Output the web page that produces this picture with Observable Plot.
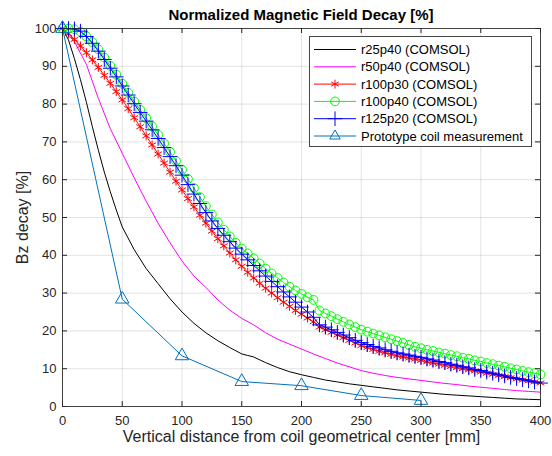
<!DOCTYPE html>
<html>
<head>
<meta charset="utf-8">
<script src="https://cdn.jsdelivr.net/npm/d3@7"></script>
<script src="https://cdn.jsdelivr.net/npm/@observablehq/plot@0.6"></script>
<style>
  html, body { margin: 0; padding: 0; background: #fff; }
  #title { height: 24px; box-sizing: border-box; padding-left: 62px; padding-right: 12px; padding-top: 6px;
           font: bold 15px "Liberation Sans", Arial, sans-serif; color: #000; text-align: center; line-height: 17px; }
  svg { display: block; overflow: visible; font-family: "Liberation Sans", Arial, sans-serif; }
</style>
</head>
<body>
<div id="title">Normalized Magnetic Field Decay [%]</div>
<div id="chart"></div>
<script>
// ---- data ----
const xTicks = [0, 50, 100, 150, 200, 250, 300, 350, 400];
const yTicks = [0, 10, 20, 30, 40, 50, 60, 70, 80, 90, 100];

// dense COMSOL sample positions (mm)
const denseX = d3.range(0, 405, 5);

const r100p30 = [100,98.6,97.1,95.4,93.6,91.7,89.7,87.6,85.5,83.3,
  81.1,78.8,76.4,74.0,71.6,69.2,66.8,64.4,62.0,59.6,
  57.3,55.0,52.8,50.6,48.5,46.4,44.4,42.5,40.6,38.8,
  37.1,35.5,34.0,32.6,31.3,30.0,28.8,27.6,26.5,25.4,
  24.4,23.4,22.4,21.0,20.3,19.6,18.9,18.2,17.5,16.8,
  16.1,15.6,15.1,14.6,14.2,13.8,13.4,13.1,12.8,12.5,
  12.2,11.8,11.5,11.2,10.9,10.6,10.3,10.0,9.7,9.4,
  9.1,8.8,8.5,8.2,7.9,7.6,7.3,7.0,6.8,6.5,
  6.2];

const r100p40 = [100,100,99.8,99.1,97.9,96.4,94.5,92.3,90.1,87.8,
  85.4,83.0,80.7,78.5,76.3,74.1,71.9,69.6,67.3,65.0,
  62.6,60.2,57.8,55.4,53.0,50.8,48.7,46.8,45.0,43.3,
  41.8,40.5,39.2,37.8,36.5,35.2,34.0,32.8,31.7,30.7,
  29.8,28.9,28.2,25.4,24.6,23.9,23.1,22.4,21.7,21.0,
  20.3,19.8,19.3,18.8,18.3,17.8,17.3,16.8,16.3,15.8,
  15.4,15.0,14.7,14.3,14.0,13.6,13.3,12.9,12.6,12.2,
  11.9,11.5,11.2,10.8,10.5,10.1,9.8,9.4,9.1,8.8,
  8.5];

const r125p20 = [100,100,99.9,99.3,97.9,96.1,94.0,91.8,89.5,87.2,
  84.8,82.4,80.1,77.8,75.5,73.2,70.9,68.5,66.1,63.7,
  61.2,58.7,56.2,53.7,51.3,49.1,47.1,45.3,43.6,41.9,
  40.3,38.8,37.3,35.9,34.5,33.1,31.7,30.3,29.0,27.6,
  26.3,25.0,23.6,21.6,21.0,20.3,19.6,18.9,18.2,17.5,
  16.9,16.4,15.9,15.5,15.0,14.6,14.2,13.9,13.6,13.3,
  13.0,12.6,12.3,11.9,11.6,11.2,10.9,10.5,10.2,9.8,
  9.5,9.1,8.8,8.4,8.1,7.7,7.4,7.1,6.8,6.5,
  6.2];

const r25p40X = [0,5,10,15,20,25,30,35,40,45,50,60,70,80,90,100,110,120,130,140,150,155,160,170,180,190,200,210,220,230,240,250,260,270,280,290,300,310,320,330,340,350,360,370,380,390,400];
const r25p40Y = [100,97,92,86.5,80.5,74,67.8,62,56.8,52,47.5,41.5,36.5,32.5,28.5,25.0,22.0,19.5,17.4,15.6,13.9,13.5,13.1,11.6,10.3,9.2,8.4,7.7,7.0,6.5,6.0,5.6,5.2,4.8,4.4,4.1,3.8,3.5,3.2,3.0,2.8,2.6,2.4,2.2,2.0,1.9,1.8];

const r50p40X = [0,10,20,30,40,50,60,70,80,90,100,110,115,120,130,140,150,160,170,180,190,200,210,220,230,240,250,260,270,280,290,300,310,320,330,340,350,360,370,380,390,400];
const r50p40Y = [100,96.5,90.5,81.5,73.5,67,60.5,54.3,48.5,43.3,38.5,34.5,33,31.5,28.2,25.5,23.3,21.6,19.5,17.8,16.5,15.2,13.9,12.7,11.5,10.5,9.5,8.8,8.2,7.7,7.3,6.9,6.5,6.1,5.8,5.4,5.1,4.8,4.5,4.2,4.0,3.8];

const protoX = [0, 50, 100, 150, 200, 250, 300];
const protoY = [100, 28.4, 13.4, 6.6, 5.5, 2.9, 1.6];

const seriesNames = ["r25p40 (COMSOL)", "r50p40 (COMSOL)", "r100p30 (COMSOL)", "r100p40 (COMSOL)", "r125p20 (COMSOL)", "Prototype coil measurement"];
const seriesColors = ["#000000", "#ff00ff", "#ff0000", "#00ff00", "#0000ff", "#0072bd"];
const seriesSymbols = [null, null, "asterisk", "circle", "plus", "triangle"];

const xLabel = "Vertical distance from coil geometrical center [mm]";
const yLabel = "Bz decay [%]";

// ---- tables ----
const zipXY = (xs, ys) => xs.map((x, i) => ({x, y: ys[i]}));
const dBlack = zipXY(r25p40X, r25p40Y);
const dMag = zipXY(r50p40X, r50p40Y);
const dRed = zipXY(denseX, r100p30);
const dGreen = zipXY(denseX, r100p40);
const dBlue = zipXY(denseX, r125p20);
const dProto = zipXY(protoX, protoY);

const W = 552, H = 432, mL = 62, mR = 12, mT = 4, mB = 50;
const fw = W - mL - mR, fh = H - mT - mB;
const axisColor = "#262626";
const symR = {asterisk: 4.2, circle: 4.4, plus: 4.8, triangle: 5};

const plot = Plot.plot({
  width: W, height: H,
  marginLeft: mL, marginRight: mR, marginTop: mT, marginBottom: mB,
  style: {fontFamily: '"Liberation Sans", Arial, sans-serif', background: "#fff", overflow: "visible"},
  x: {domain: [0, 400]},
  y: {domain: [0, 100]},
  marks: [
    Plot.gridX(xTicks, {stroke: axisColor, strokeOpacity: 0.13}),
    Plot.gridY(yTicks, {stroke: axisColor, strokeOpacity: 0.13}),
    Plot.line(dBlack, {x: "x", y: "y", stroke: seriesColors[0], strokeWidth: 1}),
    Plot.line(dMag, {x: "x", y: "y", stroke: seriesColors[1], strokeWidth: 1}),
    Plot.line(dRed, {x: "x", y: "y", stroke: seriesColors[2], strokeWidth: 1}),
    Plot.dot(dRed, {x: "x", y: "y", symbol: "asterisk", r: symR.asterisk, stroke: seriesColors[2], strokeWidth: 1}),
    Plot.line(dGreen, {x: "x", y: "y", stroke: seriesColors[3], strokeWidth: 1}),
    Plot.dot(dGreen, {x: "x", y: "y", symbol: "circle", r: symR.circle, stroke: seriesColors[3], fill: "none", strokeWidth: 1}),
    Plot.line(dBlue, {x: "x", y: "y", stroke: seriesColors[4], strokeWidth: 1}),
    Plot.dot(dBlue, {x: "x", y: "y", symbol: "plus", r: symR.plus, stroke: seriesColors[4], strokeWidth: 1}),
    Plot.line(dProto, {x: "x", y: "y", stroke: seriesColors[5], strokeWidth: 1}),
    Plot.dot(dProto, {x: "x", y: "y", symbol: "triangle", r: symR.triangle, stroke: seriesColors[5], fill: "none", strokeWidth: 1}),
    Plot.frame({stroke: axisColor, strokeOpacity: 0.85}),
    Plot.tickX(xTicks, {x: d => d, insetTop: fh - 5, stroke: axisColor}),
    Plot.tickX(xTicks, {x: d => d, insetBottom: fh - 5, stroke: axisColor}),
    Plot.tickY(yTicks, {y: d => d, insetRight: fw - 5, stroke: axisColor}),
    Plot.tickY(yTicks, {y: d => d, insetLeft: fw - 5, stroke: axisColor}),
    Plot.axisX(xTicks, {tickSize: 0, tickPadding: 9, fontSize: 13, label: null, fill: axisColor}),
    Plot.axisY(yTicks, {tickSize: 0, tickPadding: 6, fontSize: 13, label: null, fill: axisColor}),
    Plot.text([xLabel], {frameAnchor: "bottom", dy: 35, fontSize: 16, fill: axisColor}),
    Plot.text([yLabel], {x: 0, y: 50, rotate: -90, dx: -40, fontSize: 16, fill: axisColor, textAnchor: "middle"})
  ]
});

document.getElementById("chart").appendChild(plot);

// ---- legend (inside the axes, top right) ----
const svg = d3.select(plot);
const lg = svg.append("g").attr("text-anchor", "start");
const bx = 309, by = 12, bw = 222, bh = 110;
lg.append("rect").attr("x", bx + 0.5).attr("y", by + 0.5).attr("width", bw).attr("height", bh)
  .attr("fill", "#fff").attr("stroke", axisColor).attr("stroke-opacity", 0.85);
const d3sym = {asterisk: d3.symbolAsterisk, circle: d3.symbolCircle, plus: d3.symbolPlus, triangle: d3.symbolTriangle2};
seriesNames.forEach((name, i) => {
  const cy = by + 13.5 + i * 17.3;
  lg.append("line").attr("x1", 314).attr("x2", 356).attr("y1", cy).attr("y2", cy)
    .attr("stroke", seriesColors[i]).attr("stroke-width", 1);
  const s = seriesSymbols[i];
  if (s) {
    lg.append("path").attr("transform", `translate(335,${cy})`)
      .attr("d", d3.symbol(d3sym[s], Math.PI * symR[s] * symR[s])())
      .attr("fill", "none").attr("stroke", seriesColors[i]).attr("stroke-width", 1);
  }
  lg.append("text").attr("x", 361).attr("y", cy).attr("dy", "0.35em").attr("text-anchor", "start")
    .attr("font-size", 13).attr("fill", "#000").text(name);
});
</script>
</body>
</html>
